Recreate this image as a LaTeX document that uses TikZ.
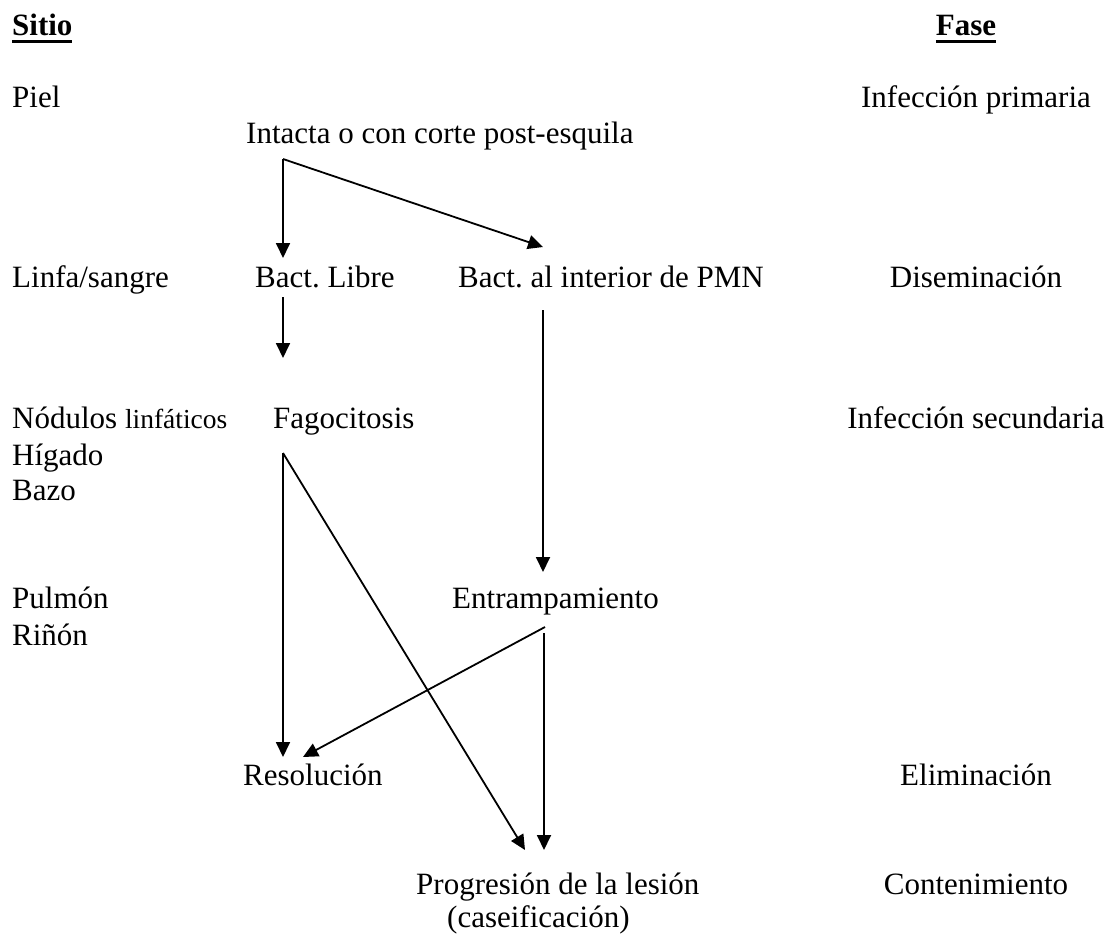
\documentclass[tikz,border=0pt]{standalone}
\usepackage{fontspec}
\setmainfont{Liberation Serif}
\usetikzlibrary{arrows.meta}
\newcommand{\headtxt}[1]{\setbox0=\hbox{\textbf{#1}}\rlap{\vrule height -5pt depth 8pt width \wd0}\box0}
\begin{document}
\begin{tikzpicture}[
  x=1pt,y=-1pt,
  lbl/.style={inner sep=0pt,anchor=base west,font=\fontsize{31}{37}\selectfont},
  fase/.style={lbl,anchor=base},
  arr/.style={-{Triangle[length=15pt,width=14pt]},line width=1.8pt}
]
\useasboundingbox (0,0) rectangle (1109,935);
% column heads
\node[lbl] (sitio) at (12,35) {\headtxt{Sitio}};
\node[fase] (fasehd) at (966,35) {\headtxt{Fase}};
% sites
\node[lbl] (piel) at (12,107) {Piel};
\node[lbl] (linfa) at (12,287) {Linfa/sangre};
\node[lbl] (nodulos) at (12,428) {Nódulos {\fontsize{27.5}{33}\selectfont linfáticos}};
\node[lbl] (higado) at (12,465) {Hígado};
\node[lbl] (bazo) at (12,500) {Bazo};
\node[lbl] (pulmon) at (12,608) {Pulmón};
\node[lbl] (rinon) at (12,645) {Riñón};
% phases
\node[fase] (primaria) at (976,107) {Infección primaria};
\node[fase] (disem) at (976,287) {Diseminación};
\node[fase] (secund) at (976,428) {Infección secundaria};
\node[fase] (elim) at (976,785) {Eliminación};
\node[fase] (conten) at (976,894) {Contenimiento};
% events
\node[lbl] (intacta) at (246,143) {Intacta o con corte post-esquila};
\node[lbl] (libre) at (255,287) {Bact.\ Libre};
\node[lbl] (pmn) at (458,287) {Bact.\ al interior de PMN};
\node[lbl] (fago) at (273,428) {Fagocitosis};
\node[lbl] (entramp) at (452,608) {Entrampamiento};
\node[lbl] (resol) at (243,785) {Resolución};
\node[lbl] (progres) at (416,894) {Progresión de la lesión};
\node[lbl] (caseif) at (447,927) {(caseificación)};
% arrow ends
\coordinate (fork) at (283,159);
\coordinate (libre-in) at (283,258);
\coordinate (pmn-in) at (543,247);
\coordinate (libre-out) at (283,297);
\coordinate (fago-in) at (283,358);
\coordinate (pmn-out) at (543,310);
\coordinate (entr-in) at (543,572);
\coordinate (fago-out) at (283,453);
\coordinate (resol-in) at (283,757);
\coordinate (resol-in2) at (303,757);
\coordinate (prog-in) at (525,850);
\coordinate (prog-in2) at (544,850);
\coordinate (entr-out) at (545,627);
\coordinate (entr-out2) at (544,633);
% arrows
\draw[arr] (fork) -- (libre-in);
\draw[arr] (fork) -- (pmn-in);
\draw[arr] (libre-out) -- (fago-in);
\draw[arr] (pmn-out) -- (entr-in);
\draw[arr] (fago-out) -- (resol-in);
\draw[arr] (fago-out) -- (prog-in);
\draw[arr] (entr-out) -- (resol-in2);
\draw[arr] (entr-out2) -- (prog-in2);
\end{tikzpicture}
\end{document}
